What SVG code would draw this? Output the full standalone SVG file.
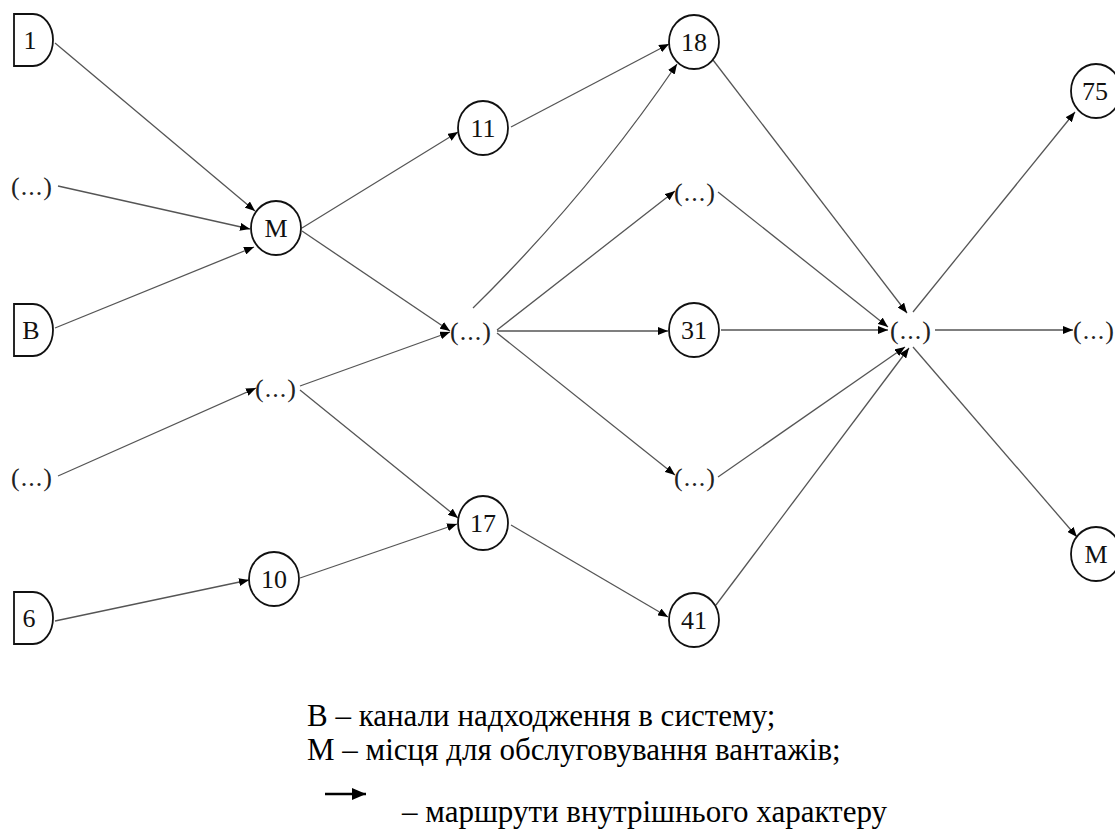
<svg xmlns="http://www.w3.org/2000/svg" width="1115" height="829" viewBox="0 0 1115 829">
<style>
.lbl{font-size:26px;fill:#111;text-anchor:middle}
.dots{font-size:26px;fill:#222;text-anchor:middle;letter-spacing:1px}
.node{fill:#fff;stroke:#111;stroke-width:1.8}
.edge{fill:none;stroke:#555;stroke-width:1.3}
.leg{font-size:31px;fill:#000}
</style>
<defs>
<marker id="ah" viewBox="0 0 10 8" refX="10" refY="4" markerWidth="10" markerHeight="8" markerUnits="userSpaceOnUse" orient="auto">
<path d="M0,0 L10,4 L0,8 Z" fill="#000"/>
</marker>
<marker id="ahL" viewBox="0 0 14 12" refX="14" refY="6" markerWidth="14" markerHeight="12" markerUnits="userSpaceOnUse" orient="auto">
<path d="M0,0 L14,6 L0,12 Z" fill="#000"/>
</marker>
</defs>
<rect width="1115" height="829" fill="#fff"/>
<g id="connectors">
<line class="edge" x1="55" y1="43" x2="255" y2="211" marker-end="url(#ah)"/>
<line class="edge" x1="58" y1="186" x2="250" y2="229" marker-end="url(#ah)"/>
<line class="edge" x1="55" y1="328" x2="254" y2="247" marker-end="url(#ah)"/>
<line class="edge" x1="302" y1="228" x2="458" y2="132" marker-end="url(#ah)"/>
<line class="edge" x1="302" y1="231" x2="450" y2="331" marker-end="url(#ah)"/>
<line class="edge" x1="58" y1="476" x2="256" y2="388" marker-end="url(#ah)"/>
<line class="edge" x1="300" y1="386" x2="450" y2="332" marker-end="url(#ah)"/>
<line class="edge" x1="300" y1="390" x2="458" y2="518" marker-end="url(#ah)"/>
<line class="edge" x1="55" y1="621" x2="249" y2="580" marker-end="url(#ah)"/>
<line class="edge" x1="300" y1="578" x2="457" y2="524" marker-end="url(#ah)"/>
<line class="edge" x1="511" y1="127" x2="669" y2="44" marker-end="url(#ah)"/>
<path class="edge" d="M473,308 Q587,196 677,64" marker-end="url(#ah)"/>
<line class="edge" x1="497" y1="330" x2="675" y2="191" marker-end="url(#ah)"/>
<line class="edge" x1="497" y1="331" x2="668" y2="331" marker-end="url(#ah)"/>
<line class="edge" x1="497" y1="333" x2="675" y2="475" marker-end="url(#ah)"/>
<line class="edge" x1="511" y1="525" x2="668" y2="617" marker-end="url(#ah)"/>
<line class="edge" x1="713" y1="60" x2="907" y2="313" marker-end="url(#ah)"/>
<line class="edge" x1="718" y1="192" x2="888" y2="327" marker-end="url(#ah)"/>
<line class="edge" x1="721" y1="330" x2="888" y2="330" marker-end="url(#ah)"/>
<line class="edge" x1="718" y1="477" x2="905" y2="347" marker-end="url(#ah)"/>
<line class="edge" x1="716" y1="605" x2="909" y2="348" marker-end="url(#ah)"/>
<line class="edge" x1="913" y1="312" x2="1075" y2="112" marker-end="url(#ah)"/>
<line class="edge" x1="935" y1="330" x2="1073" y2="330" marker-end="url(#ah)"/>
<line class="edge" x1="913" y1="347" x2="1077" y2="537" marker-end="url(#ah)"/>
</g>
<g id="nodes" font-family="Liberation Serif, serif">
<g id="n-src1"><path class="node" d="M14,14 H33 A20,26 0 0 1 33,66 H14 Z"/><text class="lbl" x="30" y="49">1</text></g>
<g id="n-dots-l1"><text class="dots" x="32" y="195">(...)</text></g>
<g id="n-srcB"><path class="node" d="M14,304 H33 A20,26 0 0 1 33,356 H14 Z"/><text class="lbl" x="31" y="339">В</text></g>
<g id="n-dots-l2"><text class="dots" x="32" y="486">(...)</text></g>
<g id="n-src6"><path class="node" d="M14,592 H33 A20,26 0 0 1 33,644 H14 Z"/><text class="lbl" x="29" y="627">6</text></g>
<g id="n-M"><ellipse class="node" cx="276" cy="228" rx="25" ry="27"/><text class="lbl" x="276" y="237">М</text></g>
<g id="n-dots-2"><text class="dots" x="276" y="397">(...)</text></g>
<g id="n-10"><ellipse class="node" cx="274" cy="579" rx="25" ry="27"/><text class="lbl" x="274" y="588">10</text></g>
<g id="n-11"><ellipse class="node" cx="483" cy="128" rx="25" ry="27"/><text class="lbl" x="483" y="137">11</text></g>
<g id="n-dots-mid"><text class="dots" x="471" y="340">(...)</text></g>
<g id="n-17"><ellipse class="node" cx="483" cy="523" rx="25" ry="27"/><text class="lbl" x="483" y="532">17</text></g>
<g id="n-18"><ellipse class="node" cx="694" cy="42" rx="25" ry="27"/><text class="lbl" x="694" y="51">18</text></g>
<g id="n-dots-u"><text class="dots" x="695" y="201">(...)</text></g>
<g id="n-31"><ellipse class="node" cx="694" cy="330" rx="25" ry="27"/><text class="lbl" x="694" y="339">31</text></g>
<g id="n-dots-d"><text class="dots" x="695" y="486">(...)</text></g>
<g id="n-41"><ellipse class="node" cx="694" cy="620" rx="25" ry="27"/><text class="lbl" x="694" y="629">41</text></g>
<g id="n-dots-hub"><text class="dots" x="911" y="339">(...)</text></g>
<g id="n-75"><ellipse class="node" cx="1096" cy="91" rx="25" ry="27"/><text class="lbl" x="1095" y="100">75</text></g>
<g id="n-dots-r"><text class="dots" x="1094" y="339">(...)</text></g>
<g id="n-M2"><ellipse class="node" cx="1096" cy="554" rx="25" ry="27"/><text class="lbl" x="1096" y="563">М</text></g>
</g>
<g id="legend" font-family="Liberation Serif, serif">
<text class="leg" x="307" y="726">В – канали надходження в систему;</text>
<text class="leg" x="307" y="760">М – місця для обслуговування вантажів;</text>
<line x1="325" y1="794" x2="366" y2="794" stroke="#000" stroke-width="2.5" marker-end="url(#ahL)"/>
<text class="leg" x="402" y="822">– маршрути внутрішнього характеру</text>
</g>
</svg>
